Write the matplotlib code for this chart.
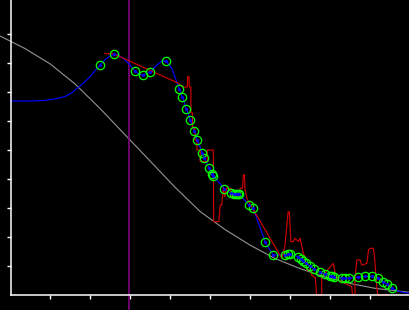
import matplotlib
matplotlib.use("Agg")
import matplotlib.pyplot as plt

# ---- data (abstract units: x tick spacing = 1, y tick spacing = 1) ----
marker_x = [2.24, 2.60, 3.11, 3.32, 3.50, 3.89, 4.22, 4.30, 4.40, 4.50, 4.60, 4.67,
            4.80, 4.85, 4.97, 5.05, 5.07, 5.35, 5.51, 5.58, 5.63, 5.68, 5.72, 5.96,
            6.06, 6.37, 6.57, 6.86, 6.93, 6.99, 7.20, 7.26, 7.31, 7.39, 7.49, 7.60,
            7.74, 7.86, 7.98, 8.03, 8.10, 8.28, 8.36, 8.46, 8.68, 8.86, 9.03, 9.20,
            9.32, 9.42, 9.55]
marker_y = [7.93, 8.31, 7.72, 7.58, 7.69, 8.06, 7.09, 6.82, 6.40, 6.02, 5.64, 5.33,
            4.89, 4.73, 4.37, 4.17, 4.11, 3.66, 3.51, 3.48, 3.47, 3.47, 3.48, 3.10,
            3.01, 1.82, 1.38, 1.38, 1.40, 1.40, 1.32, 1.24, 1.17, 1.09, 1.00, 0.89,
            0.79, 0.72, 0.67, 0.66, 0.62, 0.58, 0.58, 0.58, 0.61, 0.64, 0.64, 0.58,
            0.46, 0.37, 0.23]

# smooth (blue) curve: leading flat part + through markers + tail
blue_x = [0.00, 0.56, 0.86, 1.11, 1.36, 1.54, 1.66, 1.81, 1.99, 2.11, 2.24, 2.36,
          2.49, 2.60, 2.70, 2.82, 2.99, 3.11, 3.22, 3.32, 3.50, 3.66, 3.78, 3.89,
          4.03, 4.11, 4.22] + marker_x[7:] + [9.70, 9.86, 9.99]
blue_y = [6.69, 6.69, 6.71, 6.76, 6.84, 6.98, 7.12, 7.29, 7.53, 7.73, 7.93, 8.11,
          8.24, 8.31, 8.27, 8.16, 7.93, 7.72, 7.61, 7.58, 7.69, 7.93, 8.07, 8.06,
          7.82, 7.53, 7.09] + marker_y[7:] + [0.13, 0.08, 0.07]

# raw (red) series
red_x = [2.36, 2.59, 4.20, 4.32, 4.42, 4.43, 4.46, 4.47, 4.51, 4.51, 4.55, 4.55,
         4.61, 4.61, 4.66, 4.66, 4.74, 4.74, 4.92, 4.92, 5.07, 5.08, 5.21, 5.24,
         5.28, 5.32, 5.36, 5.40, 5.51, 5.51, 5.74, 5.74, 5.80, 5.82, 5.85, 5.86,
         5.91, 6.78, 6.86, 6.94, 6.97, 7.01, 7.07, 7.11, 7.20, 7.24, 7.32, 7.36,
         7.41, 7.49, 7.53, 7.62, 7.65, 7.78, 7.78, 7.86, 8.03, 8.07, 8.11, 8.20,
         8.36, 8.53, 8.55, 8.61, 8.61, 8.66, 8.74, 8.78, 8.91, 8.95, 8.99, 9.07,
         9.10, 9.16, 9.18, 9.43]
red_y = [8.33, 8.31, 7.30, 7.17, 7.17, 7.53, 7.53, 7.17, 7.17, 6.28, 6.28, 5.76,
         5.76, 5.34, 5.34, 5.00, 5.00, 4.60, 4.60, 5.00, 5.00, 2.53, 2.53, 3.10,
         3.10, 3.68, 3.39, 3.68, 3.68, 3.39, 3.39, 3.68, 3.68, 4.14, 4.14, 3.68,
         3.33, 1.27, 1.67, 2.87, 2.87, 1.84, 1.84, 1.96, 1.84, 1.96, 1.44, 1.32,
         0.86, 0.86, 0.69, 0.59, 0.00, 0.00, 0.63, 0.75, 1.03, 1.09, 0.80, 0.52,
         0.40, 0.29, 0.00, 0.00, 0.52, 1.21, 1.21, 1.03, 1.09, 1.55, 1.61, 1.61,
         1.32, 0.23, 0.00, 0.00]

# reference (gray) curve
gray_x = [-0.26, 0.36, 0.99, 1.61, 2.24, 2.86, 3.49, 4.11, 4.74, 5.36, 5.99, 6.61,
          7.24, 7.86, 8.49, 9.11, 9.74, 9.99]
gray_y = [8.93, 8.50, 7.97, 7.28, 6.43, 5.53, 4.62, 3.72, 2.88, 2.26, 1.72, 1.26,
          0.91, 0.62, 0.40, 0.23, 0.13, 0.09]

vline_x = 2.95
x_ticks = [1, 2, 3, 4, 5, 6, 7, 8, 9]
y_ticks = [1, 2, 3, 4, 5, 6, 7, 8, 9]

# ---- figure ----
fig = plt.figure(figsize=(4.1, 3.1), dpi=100, facecolor="black")
ax = fig.add_axes([0, 0, 1, 1])
ax.set_facecolor("black")

x_lo, x_hi = -10.5 / 40, (410 - 10.5) / 40
y_lo, y_hi = -15 / 29, 295 / 29
ax.set_xlim(x_lo, x_hi)
ax.set_ylim(y_lo, y_hi)

LW = 0.85
ax.plot(gray_x, gray_y, color="#8c8c8c", lw=LW, zorder=2)
ax.axvline(vline_x, color="#8b008b", lw=1.1, zorder=3)
ax.plot(blue_x, blue_y, color="#0000ff", lw=LW, zorder=4)
ax.plot(red_x, red_y, color="#cc0000", lw=LW, zorder=5)
ax.plot(marker_x, marker_y, linestyle="none", marker="o", markersize=6,
        markerfacecolor="none", markeredgecolor="#00ff00", markeredgewidth=0.9,
        zorder=6)
ax.plot(marker_x, marker_y, linestyle="none", marker="o", markersize=1.2,
        markerfacecolor="#0000ff", markeredgecolor="#0000ff", zorder=7)

for s in ["top", "right"]:
    ax.spines[s].set_visible(False)
ax.spines["left"].set_position(("data", 0))
ax.spines["bottom"].set_position(("data", 0))
ax.spines["left"].set_bounds(0, y_hi)
ax.spines["bottom"].set_bounds(0, x_hi)
for s in ["left", "bottom"]:
    ax.spines[s].set_color("white")
    ax.spines[s].set_linewidth(1.1)
    ax.spines[s].set_zorder(8)

ax.set_xticks(x_ticks)
ax.set_yticks(y_ticks)
ax.tick_params(colors="white", direction="out", length=2.6, width=1.0,
               labelleft=False, labelbottom=False)

fig.savefig("out.png", dpi=100, facecolor="black")
